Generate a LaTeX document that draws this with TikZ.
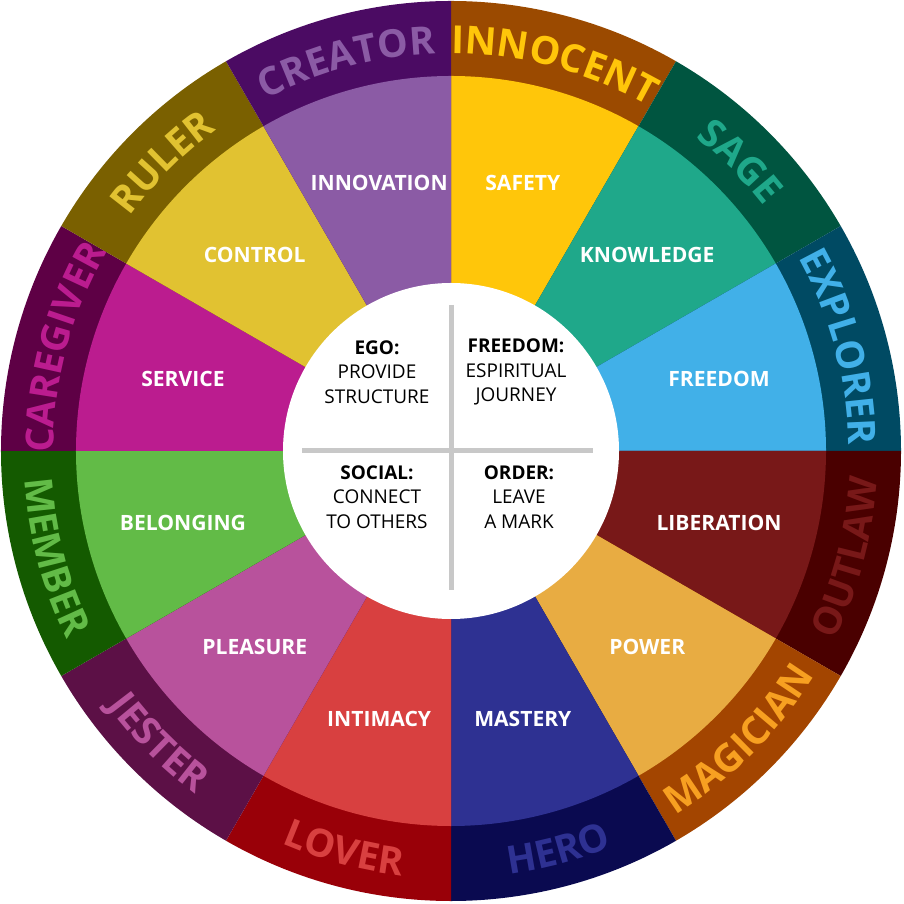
\documentclass[tikz,border=0pt]{standalone}
\usepackage{fontspec}
\setmainfont{Open Sans}
\usetikzlibrary{decorations.text}

\definecolor{innIn}{HTML}{FFC60A}\definecolor{innOut}{HTML}{9B4A00}
\definecolor{sagIn}{HTML}{1FA88A}\definecolor{sagOut}{HTML}{005540}
\definecolor{expIn}{HTML}{41B0E8}\definecolor{expOut}{HTML}{004A63}
\definecolor{outIn}{HTML}{781818}\definecolor{outOut}{HTML}{4A0000}
\definecolor{magIn}{HTML}{E8AC42}\definecolor{magOut}{HTML}{A34500}\definecolor{magTx}{HTML}{F7A021}
\definecolor{herIn}{HTML}{2E3192}\definecolor{herOut}{HTML}{0A0A50}
\definecolor{lovIn}{HTML}{D84040}\definecolor{lovOut}{HTML}{990008}
\definecolor{jesIn}{HTML}{B8529C}\definecolor{jesOut}{HTML}{5C1046}
\definecolor{memIn}{HTML}{62BB47}\definecolor{memOut}{HTML}{145A00}
\definecolor{carIn}{HTML}{BB1C8F}\definecolor{carOut}{HTML}{5E0045}
\definecolor{rulIn}{HTML}{E1C231}\definecolor{rulOut}{HTML}{7A6000}
\definecolor{creIn}{HTML}{8B5BA5}\definecolor{creOut}{HTML}{4B0B63}
\definecolor{crossgray}{HTML}{C8C8C8}

\newcommand\arcfont{\bfseries\fontsize{22}{22}\selectfont}

\tikzset{
  arcword/.style={decorate, decoration={text along path, text align=center, text={#1}}},
  wedgelabel/.style={text=white, font=\bfseries\fontsize{12}{12}\selectfont},
  quarter/.style={align=center, font=\fontsize{10.8}{14}\selectfont},
}

\begin{document}
\begin{tikzpicture}
			\useasboundingbox (-9.02,-9.06) rectangle (9.06,9.02);
			
			% wedges
			\foreach \i/\ic/\oc/\tc/\ilab/\olab in {
				0/innIn/innOut/innIn/SAFETY/INNOCENT,
				1/sagIn/sagOut/sagIn/KNOWLEDGE/SAGE,
				2/expIn/expOut/expIn/FREEDOM/EXPLORER,
				3/outIn/outOut/outIn/LIBERATION/OUTLAW,
				4/magIn/magOut/magTx/POWER/MAGICIAN,
				5/herIn/herOut/herIn/MASTERY/HERO,
				6/lovIn/lovOut/lovIn/INTIMACY/LOVER,
				7/jesIn/jesOut/jesIn/PLEASURE/JESTER,
				8/memIn/memOut/memIn/BELONGING/MEMBER,
				9/carIn/carOut/carIn/SERVICE/CAREGIVER,
				10/rulIn/rulOut/rulIn/CONTROL/RULER,
				11/creIn/creOut/creIn/INNOVATION/CREATOR}{
				\pgfmathtruncatemacro\a{75-30*\i}
				\pgfmathtruncatemacro\up{(\a>0)||(\a<-180)}
				\fill[\oc] (0,0) -- (\a+15:9) arc[start angle=\a+15, end angle=\a-15, radius=9] -- cycle;
				\fill[\ic] (0,0) -- (\a+15:7.5) arc[start angle=\a+15, end angle=\a-15, radius=7.5] -- cycle;
				\node[wedgelabel] (lab\i) at (\a:5.55) {\ilab};
				\ifnum\up=1
				\path[arcword/.expanded={|\noexpand\arcfont|\olab}, decoration={text color=\tc}]
					(\a+15:7.95) arc[start angle=\a+15, end angle=\a-15, radius=7.95];
				\else
				\path[arcword/.expanded={|\noexpand\arcfont|\olab}, decoration={text color=\tc}]
					(\a-15:8.55) arc[start angle=\a-15, end angle=\a+15, radius=8.55];
				\fi
			}
			
			% centre
			\fill[white] (0,0) circle (3.36);
			\coordinate (ctop) at (0,2.92);
			\coordinate (cbot) at (0,-2.78);
			\coordinate (cleft) at (-2.98,0);
			\coordinate (cright) at (2.84,0);
			\draw[crossgray, line width=0.1cm] (ctop) -- (cbot) (cleft) -- (cright);
			
			\node[quarter] (ego) at (-1.48,1.58) {\textbf{EGO:}\\PROVIDE\\STRUCTURE};
			\node[quarter] (freedom) at (1.3,1.58) {\textbf{FREEDOM:}\\ESPIRITUAL\\JOURNEY};
			\node[quarter] (social) at (-1.48,-0.92) {\textbf{SOCIAL:}\\CONNECT\\TO OTHERS};
			\node[quarter] (order) at (1.36,-0.92) {\textbf{ORDER:}\\LEAVE\\A MARK};
			
		\end{tikzpicture}
\end{document}
